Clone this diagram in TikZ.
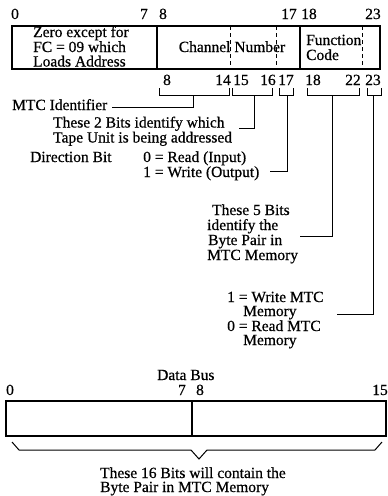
\documentclass[tikz,border=0pt]{standalone}
\usepackage{fontspec}
\setmainfont{Liberation Serif}[FakeBold=0.6]
\begin{document}
\begin{tikzpicture}[x=1pt,y=-1pt,
  lbl/.style={inner sep=0pt, font=\fontsize{15.5}{15}\selectfont, anchor=base west},
  num/.style={inner sep=0pt, font=\fontsize{15.5}{15}\selectfont, anchor=base},
  frame/.style={line width=1.3pt},
  fieldsep/.style={line width=1pt, dash pattern=on 4pt off 3pt},
  lead/.style={line width=1pt},
  ]
\useasboundingbox (0,0) rectangle (388,496);

% ---- 24-bit command word ----
\node[num] (t0)  at (15,19)  {0};
\node[num] (t7)  at (144,19) {7};
\node[num] (t8)  at (163,19) {8};
\node[num] (t17) at (289,19) {17};
\node[num] (t18) at (309,19) {18};
\node[num] (t23) at (373,19) {23};

\draw[frame] (12,26) rectangle (380,69);
\draw[frame] (157,26) -- (157,69);
\draw[frame] (300,26) -- (300,69);
\draw[fieldsep] (230,26) -- (230,69);
\draw[fieldsep] (276,26) -- (276,69);
\draw[fieldsep] (362,26) -- (362,69);

\node[lbl] (z1) at (33,37) {Zero except for};
\node[lbl] (z2) at (33,52) {FC = 09 which};
\node[lbl] (z3) at (33,66.5) {Loads Address};
\node[num] (chan) at (232,52) {Channel Number};
\node[lbl] (fn1) at (306,45) {Function};
\node[lbl] (fn2) at (306,60) {Code};

\node[num] (b8)  at (167,85) {8};
\node[num] (b14) at (223,85) {14};
\node[num] (b15) at (241,85) {15};
\node[num] (b16) at (268,85) {16};
\node[num] (b17) at (286,85) {17};
\node[num] (b18) at (313,85) {18};
\node[num] (b22) at (353,85) {22};
\node[num] (b23) at (373,85) {23};

% ---- bit-group brackets ----
\draw[lead] (159,88) -- (159,95) -- (229,95) -- (229,88);
\draw[lead] (232,88) -- (232,95) -- (272,95) -- (272,88);
\draw[lead] (279,88) -- (279,95) -- (293,95) -- (293,88);
\draw[lead] (307,88) -- (307,95) -- (359,95) -- (359,88);
\draw[lead] (367,88) -- (367,95) -- (381,95) -- (381,88);
\coordinate (g1) at (193,95);
\coordinate (g2) at (254,95);
\coordinate (g3) at (287,95);
\coordinate (g4) at (332,95);
\coordinate (g5) at (373,95);

% ---- field descriptions ----
\node[lbl] (mtc) at (12,110) {MTC Identifier};
\node[lbl] (tu1) at (53,127.5) {These 2 Bits identify which};
\node[lbl] (tu2) at (53,142.5) {Tape Unit is being addressed};
\node[lbl] (dir) at (30,162) {Direction Bit};
\node[lbl] (rd)  at (143,162) {0 = Read (Input)};
\node[lbl] (wr)  at (143,177) {1 = Write (Output)};
\node[lbl] (bp1) at (212,215) {These 5 Bits};
\node[lbl] (bp2) at (207,230) {identify the};
\node[lbl] (bp3) at (208,245) {Byte Pair in};
\node[lbl] (bp4) at (207,260) {MTC Memory};
\node[lbl] (fc1) at (227,302) {1 = Write MTC};
\node[lbl] (fc2) at (243,316) {Memory};
\node[lbl] (fc3) at (227,331) {0 = Read MTC};
\node[lbl] (fc4) at (243,345) {Memory};

\coordinate (e1) at (112,107.5);
\coordinate (e2) at (239,128);
\coordinate (e3) at (270,171);
\coordinate (e4) at (300,236);
\coordinate (e5) at (337,314);
\draw[lead] (g1) |- (e1);
\draw[lead] (g2) |- (e2);
\draw[lead] (g3) |- (e3);
\draw[lead] (g4) |- (e4);
\draw[lead] (g5) |- (e5);

% ---- 16-bit data bus ----
\node[lbl] (bus) at (157,380) {Data Bus};
\node[num] (d0)  at (10,395)  {0};
\node[num] (d7)  at (182,395) {7};
\node[num] (d8)  at (200,395) {8};
\node[num,anchor=base east] (d15) at (388,395) {15};
\draw[frame] (6,401) rectangle (386,436);
\draw[frame] (192,401) -- (192,436);

\coordinate (bl) at (12,442);
\coordinate (br) at (382,442);
\coordinate (tip) at (199,459);
\draw[lead] (bl) -- (19,450) -- (191,450) -- (tip) -- (207,450) -- (375,450) -- (br);
\node[lbl] (dw1) at (100,478) {These 16 Bits will contain the};
\node[lbl] (dw2) at (100,492) {Byte Pair in MTC Memory};
\end{tikzpicture}
\end{document}
